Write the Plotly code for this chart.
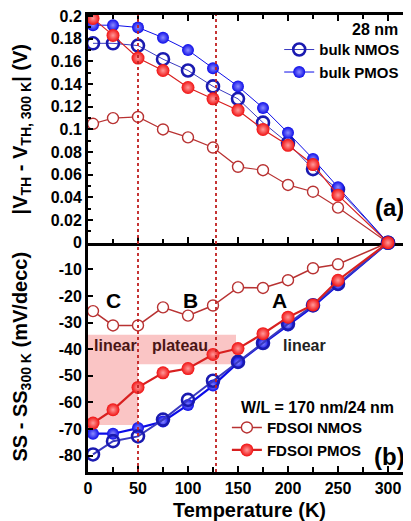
import plotly.graph_objects as go

# ---------------- data ----------------
temps = [5, 25, 50, 75, 100, 125, 150, 175, 200, 225, 250, 300]

# (a) |VTH - VTH,300K| (V)
vth_bulk_nmos = [0.176, 0.176, 0.174, 0.162, 0.152, 0.138, 0.127, 0.106, 0.088, 0.065, 0.047, 0.0]
vth_bulk_pmos = [0.192, 0.192, 0.190, 0.181, 0.170, 0.154, 0.138, 0.119, 0.097, 0.074, 0.049, 0.0]
vth_fdsoi_nmos = [0.105, 0.110, 0.111, 0.100, 0.093, 0.084, 0.067, 0.064, 0.051, 0.045, 0.031, 0.0]
vth_fdsoi_pmos = [0.198, 0.183, 0.163, 0.152, 0.137, 0.127, 0.117, 0.100, 0.086, 0.069, 0.042, 0.0]

# (b) SS - SS300K (mV/dec)
ss_bulk_nmos = [-79.6, -74.6, -72.8, -66.5, -59.1, -51.9, -44.8, -37.7, -30.5, -23.5, -15.5, 0.0]
ss_bulk_pmos = [-71.8, -71.8, -69.7, -67.2, -61.0, -53.7, -45.1, -37.9, -31.1, -24.0, -15.9, 0.0]
ss_fdsoi_nmos = [-25.7, -31.1, -31.1, -24.3, -27.4, -23.6, -16.8, -17.0, -14.1, -9.6, -8.1, 0.0]
ss_fdsoi_pmos = [-67.8, -62.8, -54.4, -48.9, -47.3, -42.0, -39.8, -34.2, -28.0, -23.4, -14.1, 0.0]

x_ticks = [0, 50, 100, 150, 200, 250, 300]
x_ticklabels = ["0", "50", "100", "150", "200", "250", "300"]
ss_ticks = [-80, -70, -60, -50, -40, -30, -20, -10]
ss_ticklabels = ["-80", "-70", "-60", "-50", "-40", "-30", "-20", "-10"]

region_lines = [50, 128]           # dotted red boundaries
shade_linear = (0, 50, -68.5, -34.6)   # x0, x1, y0, y1
shade_plateau = (50, 148, -45.7, -34.6)

# ---------------- styles ----------------
FONT = "Liberation Sans"
BLUE = "#0c0ce8"
BLUE_OPEN = "#1a1ab0"
RED = "#f01010"
RED_OPEN = "#b83232"

fig = go.Figure()

def add(x, y, xa, ya, name, kind, line_w, size, show, legend):
    if kind == "blue_open":
        marker = dict(symbol="circle-open", size=size, color=BLUE_OPEN, line=dict(width=2.6, color=BLUE_OPEN))
        lc = "#3a3ac0"
    elif kind == "blue_fill":
        marker = dict(symbol="circle", size=size, color=BLUE, gradient=dict(type="radial", color="#8c8cff"),
                      line=dict(width=0))
        lc = BLUE
    elif kind == "red_open":
        marker = dict(symbol="circle", size=size, color="white", line=dict(width=1.4, color=RED_OPEN))
        lc = RED_OPEN
    else:
        marker = dict(symbol="circle", size=size, color=RED, gradient=dict(type="radial", color="#ff9a9a"),
                      line=dict(width=0))
        lc = "#d82020"
    fig.add_trace(go.Scatter(x=x, y=y, xaxis=xa, yaxis=ya, name=name, mode="lines+markers",
                             line=dict(color=lc, width=line_w), marker=marker,
                             showlegend=show, legend=legend, cliponaxis=False))

# top panel
add(temps, vth_fdsoi_nmos, "x", "y", "FDSOI NMOS", "red_open", 1.2, 11, False, "legend")
add(temps, vth_bulk_nmos, "x", "y", "bulk NMOS", "blue_open", 1.0, 12, True, "legend")
add(temps, vth_bulk_pmos, "x", "y", "bulk PMOS", "blue_fill", 1.0, 12, True, "legend")
add(temps, vth_fdsoi_pmos, "x", "y", "FDSOI PMOS", "red_fill", 1.2, 13, False, "legend")

# bottom panel
add(temps, ss_bulk_pmos, "x2", "y2", "bulk PMOS", "blue_fill", 2.2, 12, False, "legend")
add(temps, ss_bulk_nmos, "x2", "y2", "bulk NMOS", "blue_open", 2.0, 12, False, "legend")
add(temps, ss_fdsoi_nmos, "x2", "y2", "FDSOI NMOS", "red_open", 1.5, 11, True, "legend2")
add(temps, ss_fdsoi_pmos, "x2", "y2", "FDSOI PMOS", "red_fill", 2.2, 13, True, "legend2")

# shading
for (x0, x1, y0, y1) in (shade_linear, shade_plateau):
    fig.add_shape(type="rect", xref="x2", yref="y2", x0=x0, x1=x1, y0=y0, y1=y1,
                  fillcolor="rgba(245,140,140,0.5)", line=dict(width=0), layer="below")

# dotted boundaries
for xv in region_lines:
    fig.add_shape(type="line", xref="x", yref="paper", x0=xv, x1=xv, y0=0, y1=1,
                  line=dict(color="#c02020", width=1.8, dash="dot"), layer="above")

tickfont = dict(family=FONT, size=16, color="black", weight="bold")
split = 0.5017

# the page body adds an 8 px offset, so the figure is 8 px smaller and margins are shifted
fig.update_layout(
    width=403, height=513,
    margin=dict(l=80, r=0, t=5, b=49),
    paper_bgcolor="white", plot_bgcolor="white",
    font=dict(family=FONT, color="black"),
    xaxis=dict(domain=[0, 1], anchor="y", range=[0, 323], showgrid=False, zeroline=False,
               showline=True, linewidth=3, linecolor="black", mirror="ticks",
               ticks="inside", ticklen=6, tickwidth=2, tickcolor="black",
               tickvals=x_ticks, showticklabels=False,
               minor=dict(dtick=25, tick0=0, ticks="inside", ticklen=4, tickwidth=2, tickcolor="black")),
    yaxis=dict(domain=[split, 1], anchor="x", range=[0, 0.201], showgrid=False, zeroline=False,
               showline=True, linewidth=3, linecolor="black",
               ticks="inside", ticklen=5, tickwidth=2, tickcolor="black", dtick=0.02, tick0=0,
               tickfont=tickfont, ticklabeloverflow="allow",
               minor=dict(dtick=0.01, ticks="inside", ticklen=3, tickwidth=2, tickcolor="black")),
    xaxis2=dict(domain=[0, 1], anchor="y2", range=[0, 323], showgrid=False, zeroline=False,
                showline=True, linewidth=3, linecolor="black",
                ticks="inside", ticklen=6, tickwidth=2, tickcolor="black",
                tickvals=x_ticks, ticktext=x_ticklabels, tickfont=tickfont,
                minor=dict(dtick=25, tick0=0, ticks="inside", ticklen=5, tickwidth=2, tickcolor="black"),
                title=dict(text="Temperature (K)", font=dict(family=FONT, size=20, weight="bold"), standoff=8)),
    yaxis2=dict(domain=[0, split], anchor="x2", range=[-86.2, 0], showgrid=False, zeroline=False,
                showline=True, linewidth=3, linecolor="black",
                ticks="inside", ticklen=5, tickwidth=2, tickcolor="black",
                tickvals=ss_ticks, ticktext=ss_ticklabels, tickfont=tickfont),
    legend=dict(x=0.592, y=0.96, xanchor="left", yanchor="top", bgcolor="rgba(0,0,0,0)",
                font=dict(family=FONT, size=15, weight="bold", color="black"),
                itemwidth=30, tracegroupgap=0),
    legend2=dict(x=0.43, y=0.133, xanchor="left", yanchor="top", bgcolor="rgba(0,0,0,0)",
                 font=dict(family=FONT, size=15, weight="bold", color="black"),
                 itemwidth=30, tracegroupgap=0),
)

bold = dict(family=FONT, weight="bold", color="black")
ann = [
    dict(text="|V<sub>TH</sub> - V<sub>TH, 300 K</sub>| (V)", xref="paper", yref="paper",
         x=-0.207, y=0.75, textangle=-90, font=dict(size=20, **bold)),
    dict(text="SS - SS<sub>300 K</sub> (mV/decc)", xref="paper", yref="paper",
         x=-0.207, y=0.253, textangle=-90, font=dict(size=20, **bold)),
    dict(text="28 nm", xref="x", yref="y", x=287, y=0.1885, font=dict(size=16, **bold)),
    dict(text="(a)", xref="x", yref="y", x=301, y=0.031, font=dict(size=24, **bold)),
    dict(text="(b)", xref="x2", yref="y2", x=301, y=-80.5, font=dict(size=24, **bold)),
    dict(text="W/L = 170 nm/24 nm", xref="x2", yref="y2", x=229, y=-61.9, font=dict(size=16, **bold)),
    dict(text="C", xref="x2", yref="y2", x=25, y=-21.8, font=dict(size=21, **bold)),
    dict(text="B", xref="x2", yref="y2", x=102, y=-21.8, font=dict(size=21, **bold)),
    dict(text="A", xref="x2", yref="y2", x=191, y=-21.8, font=dict(size=21, **bold)),
    dict(text="linear", xref="x2", yref="y2", x=27, y=-38.8,
         font=dict(size=16, family=FONT, weight="bold", color="#4a1515")),
    dict(text="plateau", xref="x2", yref="y2", x=92, y=-38.8,
         font=dict(size=16, family=FONT, weight="bold", color="#4a1515")),
    dict(text="linear", xref="x2", yref="y2", x=216, y=-38.8,
         font=dict(size=16, family=FONT, weight="bold", color="#222222")),
]
for a in ann:
    a.setdefault("showarrow", False)
    a.setdefault("xanchor", "center")
    a.setdefault("yanchor", "middle")
    fig.add_annotation(**a)

fig.write_html("out.html")
